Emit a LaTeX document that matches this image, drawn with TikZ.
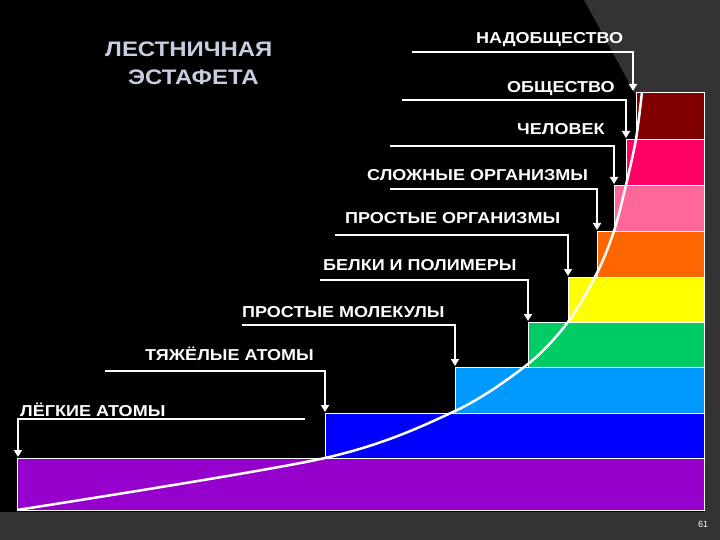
\documentclass[tikz,border=0pt]{standalone}
\usepackage{fontspec}
\setmainfont{Liberation Sans}
\usetikzlibrary{arrows.meta}
\newcommand{\wide}[1]{\scalebox{1.14}[1]{#1}}
\begin{document}
\begin{tikzpicture}[x=1pt,y=-1pt,
  lab/.style={text=white,font=\bfseries\fontsize{15.8}{17}\selectfont,inner sep=0pt},
  ttl/.style={text={rgb,255:red,200;green,205;blue,225},font=\bfseries\fontsize{21}{24}\selectfont,inner sep=0pt},
  conn/.style={draw=white,line width=2.2pt,-{Triangle[length=7pt,width=8pt]},shorten >=-1pt},
  stepbox/.style={draw=white,line width=0.6pt}]
\useasboundingbox (0,0) rectangle (720,540);
\fill[black] (0,0) rectangle (720,540);
\fill[black!80] (584,0) -- (720,0) -- (720,540) -- (704,540) -- (704,220) -- cycle;
\fill[black!80] (0,512) rectangle (720,540);
% steps
\fill[stepbox,fill={rgb,255:red,150;green,0;blue,204}] (17,458) rectangle (704,510);
\fill[stepbox,fill={rgb,255:red,0;green,0;blue,255}] (325,413) rectangle (704,458);
\fill[stepbox,fill={rgb,255:red,0;green,153;blue,255}] (455,367) rectangle (704,413);
\fill[stepbox,fill={rgb,255:red,0;green,204;blue,102}] (528,322) rectangle (704,367);
\fill[stepbox,fill={rgb,255:red,255;green,255;blue,0}] (568,277) rectangle (704,322);
\fill[stepbox,fill={rgb,255:red,255;green,102;blue,0}] (597,231) rectangle (704,277);
\fill[stepbox,fill={rgb,255:red,255;green,102;blue,153}] (614,185) rectangle (704,231);
\fill[stepbox,fill={rgb,255:red,255;green,0;blue,102}] (626,139) rectangle (704,185);
\fill[stepbox,fill={rgb,255:red,128;green,0;blue,0}] (636,92) rectangle (704,139);
% curve
\draw[white,line width=2.5pt] plot[smooth,tension=0.5] coordinates {(17,510) (325,458) (455,411) (528,364) (568,322) (597,273) (614,231) (626,185) (636,139) (642,92)};
% title
\node[ttl,anchor=base west] (title1) at (105,57) {\wide{ЛЕСТНИЧНАЯ}};
\node[ttl,anchor=base west] (title2) at (128,85) {\wide{ЭСТАФЕТА}};
\node[text=white,font=\fontsize{9}{10}\selectfont] (pg) at (703,524) {61};
% labels
\node[lab,anchor=base west] (l1) at (20,416) {\wide{ЛЁГКИЕ АТОМЫ}};
\node[lab,anchor=base west] (l2) at (145,360) {\wide{ТЯЖЁЛЫЕ АТОМЫ}};
\node[lab,anchor=base west] (l3) at (242,317) {\wide{ПРОСТЫЕ МОЛЕКУЛЫ}};
\node[lab,anchor=base west] (l4) at (323,270) {\wide{БЕЛКИ И ПОЛИМЕРЫ}};
\node[lab,anchor=base west] (l5) at (345,223) {\wide{ПРОСТЫЕ ОРГАНИЗМЫ}};
\node[lab,anchor=base west] (l6) at (367,181) {\wide{СЛОЖНЫЕ ОРГАНИЗМЫ}};
\node[lab,anchor=base west] (l7) at (517,135) {\wide{ЧЕЛОВЕК}};
\node[lab,anchor=base west] (l8) at (507,93) {\wide{ОБЩЕСТВО}};
\node[lab,anchor=base west] (l9) at (476,44) {\wide{НАДОБЩЕСТВО}};
% connectors
\coordinate (s1) at (305,419); \coordinate (t1) at (18,456);
\coordinate (s2) at (105,371); \coordinate (t2) at (325,411);
\coordinate (s3) at (242,325); \coordinate (t3) at (455,365);
\coordinate (s4) at (320,280); \coordinate (t4) at (528,320);
\coordinate (s5) at (335,235); \coordinate (t5) at (568,275);
\coordinate (s6) at (390,189); \coordinate (t6) at (597,229);
\coordinate (s7) at (390,146); \coordinate (t7) at (614,183);
\coordinate (s8) at (402,100); \coordinate (t8) at (626,137);
\coordinate (s9) at (412,52);  \coordinate (t9) at (633,90);
\foreach \i in {1,...,9} {\draw[conn] (s\i) -| (t\i);}
\end{tikzpicture}
\end{document}
